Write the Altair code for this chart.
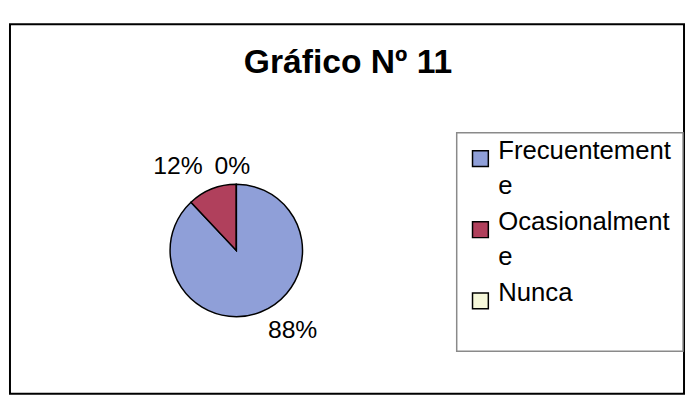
import altair as alt
import pandas as pd

# ---- data ----
categories = ["Frecuentemente", "Ocasionalmente", "Nunca"]
values = [88, 12, 0]
labels = ["88%", "12%", "0%"]
legend_lines = [["Frecuentement", "e"], ["Ocasionalment", "e"], ["Nunca"]]
colors = ["#8F9FD8", "#B0405C", "#F6F8DA"]
title_text = "Gráfico Nº 11"

df = pd.DataFrame({"category": categories, "value": values,
                   "label": labels, "idx": list(range(len(categories)))})
one = pd.DataFrame({"a": [0]})

W, H = 686, 396
CX, CY, R = 231, 243, 67
FONT = "Liberation Sans"

def js_arr(lines):
    return "[" + ",".join("'" + s + "'" for s in lines) + "]"

label_expr = ""
for c, lines in zip(categories, legend_lines):
    label_expr += f"datum.label == '{c}' ? {js_arr(lines)} : "
label_expr += "datum.label"

base = alt.Chart(df).transform_stack(
    stack="value", groupby=[], as_=["v0", "v1"],
    sort=[alt.SortField("idx", order="ascending")]
).transform_calculate(mid="(datum.v0 + datum.v1) / 2")

theta_scale = alt.Scale(domain=[0, 100])

frame = alt.Chart(one).mark_rect(fill="white", stroke="black", strokeWidth=2).encode(
    x=alt.value(2), x2=alt.value(684), y=alt.value(14), y2=alt.value(388))

legend_box = alt.Chart(one).mark_rect(fill="white", stroke="#8a8a8a", strokeWidth=1.5).encode(
    x=alt.value(454), x2=alt.value(683), y=alt.value(124), y2=alt.value(345))

title = alt.Chart(one).mark_text(font=FONT, fontSize=34, fontWeight="bold",
                                 align="center", baseline="alphabetic", color="black").encode(
    x=alt.value(344), y=alt.value(63), text=alt.value(title_text))

pie = base.mark_arc(outerRadius=R, stroke="black", strokeWidth=1.5).encode(
    x=alt.value(CX), y=alt.value(CY),
    theta=alt.Theta("v0:Q", scale=theta_scale), theta2="v1:Q",
    color=alt.Color("category:N",
                    scale=alt.Scale(domain=categories, range=colors),
                    sort=categories,
                    legend=alt.Legend(title=None, orient="none", legendX=465, legendY=137,
                                      symbolType="square", symbolSize=256,
                                      symbolStrokeColor="black", symbolStrokeWidth=1.5,
                                      labelFont=FONT, labelFontSize=26, labelColor="black",
                                      labelBaseline="alphabetic", labelOffset=5,
                                      labelLimit=400, rowPadding=10,
                                      labelExpr=label_expr)),
)

offsets = {"88%": (22, -8), "12%": (-24, 3), "0%": (-4, 10)}
text_layers = []
for lab in labels:
    dx, dy = offsets[lab]
    text_layers.append(
        base.transform_filter(alt.datum.label == lab).mark_text(
            font=FONT, fontSize=25, color="black", align="center", baseline="middle",
            dx=dx, dy=dy, radius=95).encode(
            x=alt.value(CX), y=alt.value(CY),
            theta=alt.Theta("mid:Q", scale=theta_scale),
            text="label:N"))

chart = alt.layer(frame, legend_box, title, pie, *text_layers).properties(
    width=W, height=H, autosize=alt.AutoSizeParams(type="none"), padding=0
).configure(background="white", style={"guide-label": {"lineHeight": 36}}
).configure_view(stroke=None)

chart.save("out.html", embed_options={"renderer": "svg", "actions": False})
